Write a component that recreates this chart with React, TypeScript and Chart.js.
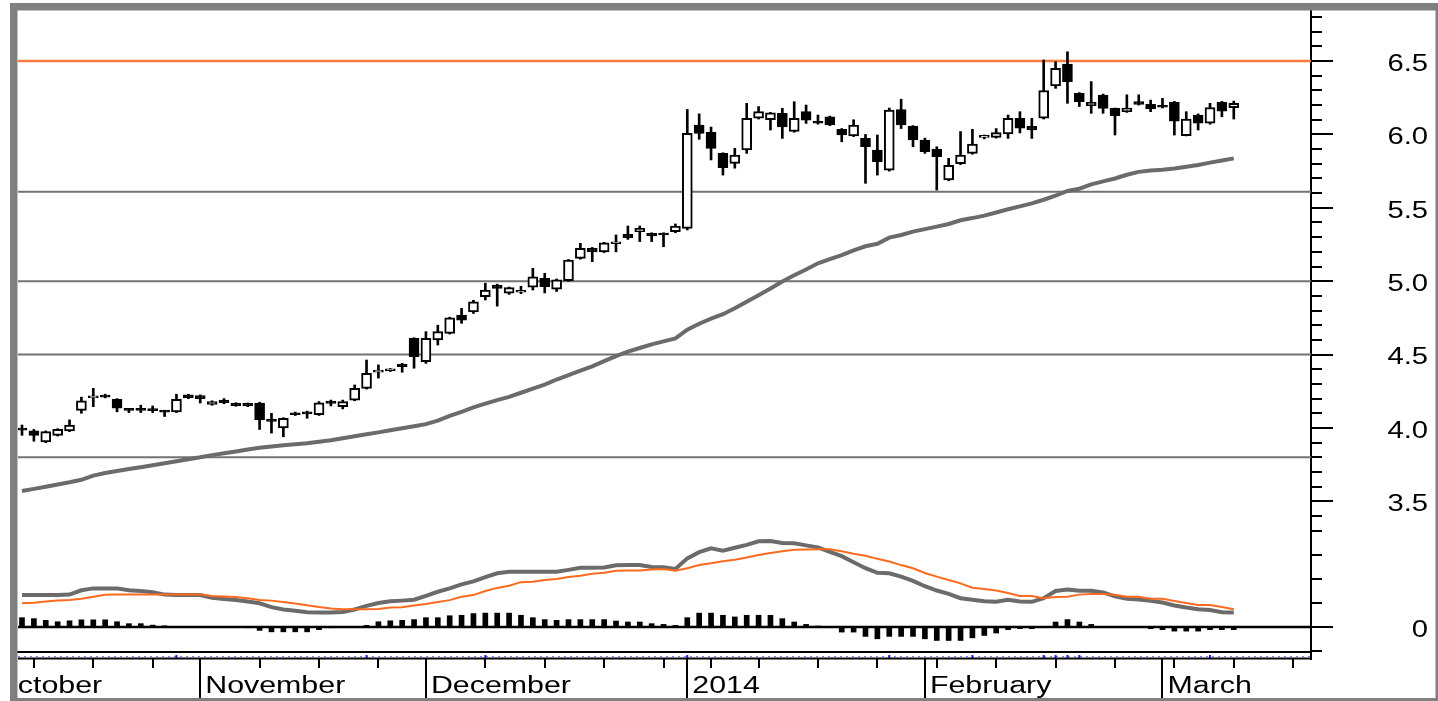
import React, { useEffect, useRef } from 'react';
import { Chart, registerables } from 'chart.js';

Chart.register(...registerables);

// ---------- DATA ----------
const opens = [3.99, 3.98, 3.905, 3.95, 3.98, 4.12, 4.205, 4.215, 4.195, 4.125,
  4.125, 4.125, 4.115, 4.11, 4.225, 4.22, 4.16, 4.19, 4.168, 4.168,
  4.17, 4.06, 4.0, 4.1, 4.11, 4.09, 4.184, 4.145, 4.19, 4.27,
  4.38, 4.39, 4.434, 4.61, 4.452, 4.60, 4.645, 4.77, 4.79, 4.894,
  4.974, 4.918, 4.925, 4.96, 5.02, 4.945, 5.003, 5.156, 5.224, 5.2,
  5.255, 5.32, 5.337, 5.326, 5.326, 5.337, 5.36, 6.064, 6.014, 5.871,
  5.803, 5.894, 6.11, 6.10, 6.144, 6.02, 6.155, 6.09, 6.12, 6.035,
  5.99, 5.973, 5.894, 5.757, 6.17, 6.057, 5.962, 5.9, 5.69, 5.80,
  5.871, 5.98, 5.98, 6.003, 6.11, 6.055, 6.11, 6.33, 6.48, 6.28,
  6.196, 6.268, 6.178, 6.155, 6.223, 6.205, 6.195, 6.219, 5.991, 6.132,
  6.076, 6.219, 6.183];
const highs = [4.02, 3.99, 3.98, 3.995, 4.055, 4.21, 4.27, 4.23, 4.2, 4.13,
  4.155, 4.15, 4.12, 4.23, 4.23, 4.225, 4.185, 4.2, 4.172, 4.17,
  4.175, 4.10, 4.07, 4.108, 4.115, 4.18, 4.19, 4.19, 4.293, 4.463,
  4.43, 4.405, 4.44, 4.615, 4.656, 4.70, 4.755, 4.815, 4.87, 4.986,
  4.98, 4.96, 4.965, 5.088, 5.054, 5.015, 5.148, 5.258, 5.23, 5.265,
  5.315, 5.376, 5.376, 5.33, 5.33, 5.39, 6.17, 6.14, 6.05, 5.875,
  5.905, 6.212, 6.19, 6.15, 6.178, 6.223, 6.2, 6.132, 6.125, 6.04,
  6.1, 6.0, 5.996, 6.18, 6.24, 6.06, 5.975, 5.916, 5.837, 6.02,
  6.035, 5.996, 6.04, 6.132, 6.155, 6.11, 6.507, 6.495, 6.563, 6.285,
  6.36, 6.275, 6.18, 6.27, 6.27, 6.234, 6.246, 6.225, 6.155, 6.14,
  6.212, 6.225, 6.227];
const lows = [3.95, 3.91, 3.90, 3.945, 3.975, 4.10, 4.145, 4.205, 4.11, 4.105,
  4.105, 4.105, 4.078, 4.105, 4.2, 4.17, 4.155, 4.165, 4.148, 4.145,
  3.99, 3.965, 3.94, 4.085, 4.066, 4.085, 4.15, 4.13, 4.185, 4.265,
  4.34, 4.385, 4.38, 4.407, 4.44, 4.565, 4.64, 4.713, 4.78, 4.872,
  4.83, 4.91, 4.915, 4.94, 4.92, 4.93, 5.0, 5.15, 5.133, 5.195,
  5.2, 5.285, 5.27, 5.27, 5.235, 5.33, 5.349, 5.967, 5.826, 5.723,
  5.77, 5.871, 6.105, 6.03, 5.973, 6.015, 6.075, 6.07, 6.06, 5.95,
  5.985, 5.667, 5.723, 5.75, 6.04, 5.916, 5.871, 5.621, 5.685, 5.795,
  5.865, 5.97, 5.975, 5.973, 6.01, 5.973, 6.105, 6.314, 6.212, 6.19,
  6.144, 6.144, 5.996, 6.15, 6.2, 6.155, 6.18, 5.996, 5.99, 6.03,
  6.07, 6.12, 6.105];
const closes = [3.985, 3.95, 3.975, 3.99, 4.02, 4.185, 4.215, 4.21, 4.135, 4.12,
  4.12, 4.118, 4.108, 4.195, 4.205, 4.2, 4.18, 4.172, 4.152, 4.15,
  4.055, 4.045, 4.066, 4.09, 4.095, 4.172, 4.168, 4.18, 4.27, 4.373,
  4.39, 4.40, 4.418, 4.486, 4.611, 4.656, 4.75, 4.735, 4.86, 4.94,
  4.95, 4.956, 4.935, 5.03, 4.963, 5.01, 5.144, 5.224, 5.20, 5.262,
  5.268, 5.296, 5.36, 5.308, 5.315, 5.376, 6.007, 6.007, 5.905, 5.773,
  5.86, 6.11, 6.155, 6.148, 6.052, 6.11, 6.098, 6.076, 6.064, 5.996,
  6.064, 5.916, 5.814, 6.166, 6.064, 5.962, 5.882, 5.848, 5.79, 5.86,
  5.935, 5.99, 6.012, 6.11, 6.042, 6.03, 6.298, 6.45, 6.36, 6.223,
  6.219, 6.178, 6.128, 6.18, 6.205, 6.173, 6.185, 6.091, 6.105, 6.076,
  6.183, 6.159, 6.212];
const movingAvg = [3.57, 3.585, 3.60, 3.615, 3.63, 3.647, 3.675, 3.693, 3.707, 3.72,
  3.733, 3.746, 3.76, 3.773, 3.787, 3.80, 3.815, 3.828, 3.84, 3.853,
  3.865, 3.874, 3.882, 3.889, 3.896, 3.906, 3.916, 3.93, 3.944, 3.957,
  3.97, 3.984, 3.998, 4.012, 4.026, 4.05, 4.082, 4.11, 4.14, 4.166,
  4.19, 4.212, 4.24, 4.268, 4.295, 4.33, 4.36, 4.39, 4.42, 4.455,
  4.49, 4.52, 4.545, 4.57, 4.59, 4.61, 4.67, 4.71, 4.745, 4.775,
  4.815, 4.86, 4.905, 4.95, 4.998, 5.04, 5.08, 5.122, 5.15, 5.178,
  5.21, 5.238, 5.255, 5.297, 5.315, 5.338, 5.355, 5.372, 5.39, 5.415,
  5.43, 5.447, 5.468, 5.49, 5.51, 5.53, 5.555, 5.583, 5.615, 5.63,
  5.66, 5.68, 5.70, 5.725, 5.745, 5.755, 5.76, 5.768, 5.78, 5.792,
  5.808, 5.822, 5.837];
const macdLine = [0.133, 0.133, 0.133, 0.133, 0.135, 0.153, 0.161, 0.161, 0.161, 0.153,
  0.15, 0.145, 0.135, 0.133, 0.133, 0.133, 0.122, 0.117, 0.113, 0.106,
  0.099, 0.083, 0.073, 0.068, 0.062, 0.061, 0.061, 0.063, 0.073, 0.088,
  0.1, 0.107, 0.11, 0.114, 0.13, 0.147, 0.161, 0.178, 0.19, 0.208,
  0.224, 0.23, 0.23, 0.23, 0.23, 0.23, 0.238, 0.247, 0.247, 0.248,
  0.257, 0.258, 0.258, 0.25, 0.249, 0.242, 0.286, 0.312, 0.328, 0.318,
  0.33, 0.342, 0.357, 0.358, 0.35, 0.349, 0.34, 0.332, 0.313, 0.295,
  0.27, 0.245, 0.226, 0.224, 0.21, 0.192, 0.17, 0.152, 0.138, 0.12,
  0.114, 0.107, 0.105, 0.114, 0.106, 0.105, 0.12, 0.15, 0.156, 0.151,
  0.151, 0.144, 0.128, 0.118, 0.115, 0.109, 0.102, 0.09, 0.081, 0.074,
  0.071, 0.062, 0.061];
const signalLine = [0.099, 0.101, 0.106, 0.111, 0.113, 0.118, 0.126, 0.134, 0.136, 0.136,
  0.136, 0.136, 0.136, 0.136, 0.136, 0.136, 0.129, 0.127, 0.125, 0.12,
  0.113, 0.11, 0.104, 0.098, 0.091, 0.083, 0.077, 0.074, 0.074, 0.074,
  0.075, 0.081, 0.082, 0.09, 0.096, 0.104, 0.112, 0.126, 0.133, 0.15,
  0.163, 0.172, 0.187, 0.189, 0.196, 0.2, 0.208, 0.214, 0.222, 0.226,
  0.234, 0.235, 0.235, 0.24, 0.242, 0.235, 0.245, 0.258, 0.266, 0.274,
  0.28, 0.29, 0.3, 0.308, 0.316, 0.322, 0.323, 0.324, 0.324, 0.316,
  0.305, 0.297, 0.284, 0.273, 0.258, 0.245, 0.225, 0.21, 0.196, 0.182,
  0.164, 0.158, 0.152, 0.142, 0.129, 0.129, 0.12, 0.125, 0.126, 0.135,
  0.1375, 0.1375, 0.134, 0.126, 0.126, 0.118, 0.118, 0.108, 0.1, 0.092,
  0.092, 0.083, 0.074];
const histogram = [0.039, 0.035, 0.028, 0.022, 0.026, 0.03, 0.03, 0.03, 0.022, 0.014,
  0.014, 0.008, 0.005, 0.003, 0.002, 0.001, 0, 0, 0, -0.003,
  -0.014, -0.02, -0.02, -0.02, -0.02, -0.011, -0.003, 0, 0.002, 0.007,
  0.022, 0.026, 0.028, 0.031, 0.039, 0.039, 0.047, 0.049, 0.056, 0.058,
  0.058, 0.058, 0.049, 0.039, 0.031, 0.028, 0.031, 0.031, 0.031, 0.031,
  0.025, 0.021, 0.021, 0.014, 0.011, 0.007, 0.039, 0.058, 0.058, 0.049,
  0.042, 0.049, 0.049, 0.049, 0.035, 0.021, 0.011, 0.004, 0, -0.021,
  -0.021, -0.039, -0.049, -0.039, -0.039, -0.039, -0.049, -0.056, -0.056, -0.056,
  -0.045, -0.035, -0.025, -0.011, -0.007, -0.007, 0.002, 0.021, 0.031, 0.021,
  0.011, 0.003, 0.001, 0, -0.002, -0.007, -0.011, -0.017, -0.017, -0.017,
  -0.011, -0.011, -0.011];

const resistanceLevel = 6.5;
const supportLevels = [5.61, 5.0, 4.5, 3.8];
const macdZero = 0;

const monthLabels = ['October', 'November', 'December', '2014', 'February', 'March'];
const monthIdx = [-2.76, 15, 34, 56, 76, 96];
const weekIdx = [1, 6, 11, 20, 25, 30, 39, 44, 49, 54, 58, 62, 67, 72, 77, 82, 87, 92, 97, 102, 107];
const markerIdx = [13, 29, 39, 56, 73, 80, 86, 87, 88, 89, 100];
const priceLabels = ['3.5', '4.0', '4.5', '5.0', '5.5', '6.0', '6.5'];
const macdLabels = ['0'];
const macdTickValues = [-0.1, 0, 0.1, 0.2, 0.3];

const X_MIN = -0.337;
const X_MAX = 108.5;
const PRICE_MIN = 3.298;
const PRICE_MAX = 6.841;
const MACD_MIN = -0.104;
const MACD_MAX = 0.4;

const FONT = '"Liberation Sans", Arial, Helvetica, sans-serif';

const overlayPlugin = {
  id: 'overlay',
  afterDraw(chart: any) {
    const { ctx, chartArea: a, scales } = chart;
    const xs = scales.x;
    const ys = scales.y;
    const y2 = scales.y2;
    const L = a.left;
    const R = a.right;
    const B = a.bottom;
    const W = chart.width;
    const H = chart.height;
    ctx.save();
    ctx.strokeStyle = '#000';
    ctx.lineWidth = 2;
    ctx.setLineDash([]);
    // y tick marks
    ys.ticks.forEach((t: any) => {
      const py = Math.round(ys.getPixelForValue(t.value));
      const major = Math.abs(t.value * 2 - Math.round(t.value * 2)) < 1e-6;
      ctx.beginPath();
      ctx.moveTo(R, py);
      ctx.lineTo(R + (major ? 22 : 11), py);
      ctx.stroke();
    });
    y2.ticks.forEach((t: any) => {
      const py = Math.round(y2.getPixelForValue(t.value));
      const major = Math.abs(t.value) < 1e-9;
      ctx.beginPath();
      ctx.moveTo(R, py);
      ctx.lineTo(R + (major ? 22 : 11), py);
      ctx.stroke();
    });
    ctx.beginPath();
    ctx.moveTo(R, B);
    ctx.lineTo(R, B + 8);
    ctx.stroke();

    // y labels (horizontally stretched like the reference)
    ctx.fillStyle = '#000';
    ctx.font = `23px ${FONT}`;
    ctx.textAlign = 'right';
    ctx.textBaseline = 'middle';
    const drawY = (scale: any, lb: string) => {
      const py = scale.getPixelForValue(parseFloat(lb));
      ctx.save();
      ctx.translate(W - 10, py + 3.5);
      ctx.scale(1.27, 1);
      ctx.fillText(lb, 0, 0);
      ctx.restore();
    };
    priceLabels.forEach((lb) => drawY(ys, lb));
    macdLabels.forEach((lb) => drawY(y2, lb));

    // x axis: dotted blue marker line + black base line
    ctx.save();
    ctx.strokeStyle = '#7a7aff';
    ctx.lineWidth = 1;
    ctx.setLineDash([2, 4]);
    ctx.beginPath();
    ctx.moveTo(L, B + 4.5);
    ctx.lineTo(R, B + 4.5);
    ctx.stroke();
    ctx.restore();
    ctx.fillStyle = '#1a1aff';
    markerIdx.forEach((i) => {
      const px = xs.getPixelForValue(i);
      ctx.fillRect(px - 1, B + 3, 2, 3);
    });
    ctx.strokeStyle = '#000';
    ctx.lineWidth = 2;
    ctx.beginPath();
    ctx.moveTo(L, B + 6.5);
    ctx.lineTo(R, B + 6.5);
    ctx.stroke();
    weekIdx.forEach((i) => {
      const px = Math.round(xs.getPixelForValue(i));
      if (px < L || px > R) return;
      ctx.beginPath();
      ctx.moveTo(px, B + 7);
      ctx.lineTo(px, B + 16);
      ctx.stroke();
    });
    monthIdx.forEach((i) => {
      const px = Math.round(xs.getPixelForValue(i));
      if (px < L || px > R) return;
      ctx.beginPath();
      ctx.moveTo(px, B + 7);
      ctx.lineTo(px, H - 3);
      ctx.stroke();
    });
    ctx.save();
    ctx.beginPath();
    ctx.rect(L, B + 8, W - L, H - B - 8);
    ctx.clip();
    ctx.fillStyle = '#000';
    ctx.font = `23px ${FONT}`;
    ctx.textAlign = 'left';
    ctx.textBaseline = 'alphabetic';
    monthLabels.forEach((lb, k) => {
      const px = xs.getPixelForValue(monthIdx[k]);
      ctx.save();
      ctx.translate(px + 5, H - 8);
      ctx.scale(1.32, 1);
      ctx.fillText(lb, 0, 0);
      ctx.restore();
    });
    ctx.restore();

    // frame
    ctx.fillStyle = '#808080';
    ctx.fillRect(10, 3, W - 10, 7.5);
    ctx.fillRect(10, 3, 7.5, H - 3);
    ctx.fillRect(W - 2.5, 3, 2.5, H - 3);
    ctx.fillRect(10, H - 3, W - 10, 3);
    ctx.restore();
  },
};

export default function App() {
  const canvasRef = useRef<HTMLCanvasElement | null>(null);

  useEffect(() => {
    if (!canvasRef.current) return;
    const idx = opens.map((_, i) => i);
    const wickData = idx.map((i) => ({ x: i, y: [lows[i], highs[i]] }));
    const bodyData = idx.map((i) => ({ x: i, y: [opens[i], closes[i]] }));
    const bodyColors = idx.map((i) => (closes[i] >= opens[i] ? '#ffffff' : '#000000'));
    const hLine = (v: number) => [{ x: X_MIN, y: v }, { x: X_MAX, y: v }];

    const datasets: any[] = [];
    supportLevels.forEach((v) => {
      datasets.push({
        type: 'line', data: hLine(v), yAxisID: 'y', borderColor: '#737373', borderWidth: 2,
        pointRadius: 0, order: 10,
      });
    });
    datasets.push({
      type: 'line', data: hLine(resistanceLevel), yAxisID: 'y', borderColor: '#ff7a3c', borderWidth: 2.5,
      pointRadius: 0, order: 10,
    });
    datasets.push({
      type: 'line', data: idx.map((i) => ({ x: i, y: movingAvg[i] })), yAxisID: 'y',
      borderColor: '#6b6b6b', borderWidth: 4, pointRadius: 0, order: 3,
    });
    datasets.push({
      type: 'bar', data: wickData, yAxisID: 'y', barThickness: 2, backgroundColor: '#000',
      borderWidth: 0, grouped: false, order: 6,
    });
    datasets.push({
      type: 'bar', data: bodyData, yAxisID: 'y', barThickness: 10, backgroundColor: bodyColors,
      borderColor: '#000', borderWidth: 2, borderSkipped: false, minBarLength: 2, grouped: false, order: 5,
    });
    datasets.push({
      type: 'line', data: hLine(macdZero), yAxisID: 'y2', borderColor: '#000', borderWidth: 2.5,
      pointRadius: 0, order: 9,
    });
    datasets.push({
      type: 'bar', data: idx.map((i) => ({ x: i, y: histogram[i] })), yAxisID: 'y2', barThickness: 5,
      backgroundColor: '#000', borderWidth: 0, grouped: false, order: 8,
    });
    datasets.push({
      type: 'line', data: idx.map((i) => ({ x: i, y: macdLine[i] })), yAxisID: 'y2',
      borderColor: '#6b6b6b', borderWidth: 4, pointRadius: 0, order: 2,
    });
    datasets.push({
      type: 'line', data: idx.map((i) => ({ x: i, y: signalLine[i] })), yAxisID: 'y2',
      borderColor: '#ff6a1f', borderWidth: 2, pointRadius: 0, order: 1,
    });

    const chart = new Chart(canvasRef.current, {
      type: 'bar',
      data: { datasets },
      options: {
        animation: false,
        responsive: false,
        devicePixelRatio: 1,
        layout: { padding: { left: 18, top: 11, right: 10, bottom: 3 } },
        plugins: { legend: { display: false }, tooltip: { enabled: false } },
        scales: {
          x: {
            type: 'linear', min: X_MIN, max: X_MAX, offset: false,
            ticks: { display: false },
            grid: { display: false, drawTicks: false, offset: false },
            border: { display: true, color: '#000', width: 2 },
            afterFit: (s: any) => { s.height = 46; },
          },
          y: {
            type: 'linear', position: 'right', stack: 'panes', stackWeight: 520,
            min: PRICE_MIN, max: PRICE_MAX,
            ticks: { display: false, includeBounds: false },
            grid: { display: false, drawTicks: false },
            border: { display: true, color: '#000', width: 2 },
            afterBuildTicks: (s: any) => {
              const t: any[] = [];
              for (let k = 33; k <= 68; k++) t.push({ value: k / 10 });
              s.ticks = t;
            },
            afterFit: (s: any) => { s.width = 117; },
          },
          y2: {
            type: 'linear', position: 'right', stack: 'panes', stackWeight: 121,
            min: MACD_MIN, max: MACD_MAX,
            ticks: { display: false, includeBounds: false },
            grid: { display: false, drawTicks: false },
            border: { display: true, color: '#000', width: 2 },
            afterBuildTicks: (s: any) => { s.ticks = macdTickValues.map((v) => ({ value: v })); },
            afterFit: (s: any) => { s.width = 117; },
          },
        },
      } as any,
      plugins: [overlayPlugin],
    });
    return () => chart.destroy();
  }, []);

  return (
    <div style={{ position: 'fixed', left: 0, top: 0, width: 1438, height: 701, background: '#fff' }}>
      <canvas ref={canvasRef} width={1438} height={701} style={{ display: 'block' }} />
    </div>
  );
}
